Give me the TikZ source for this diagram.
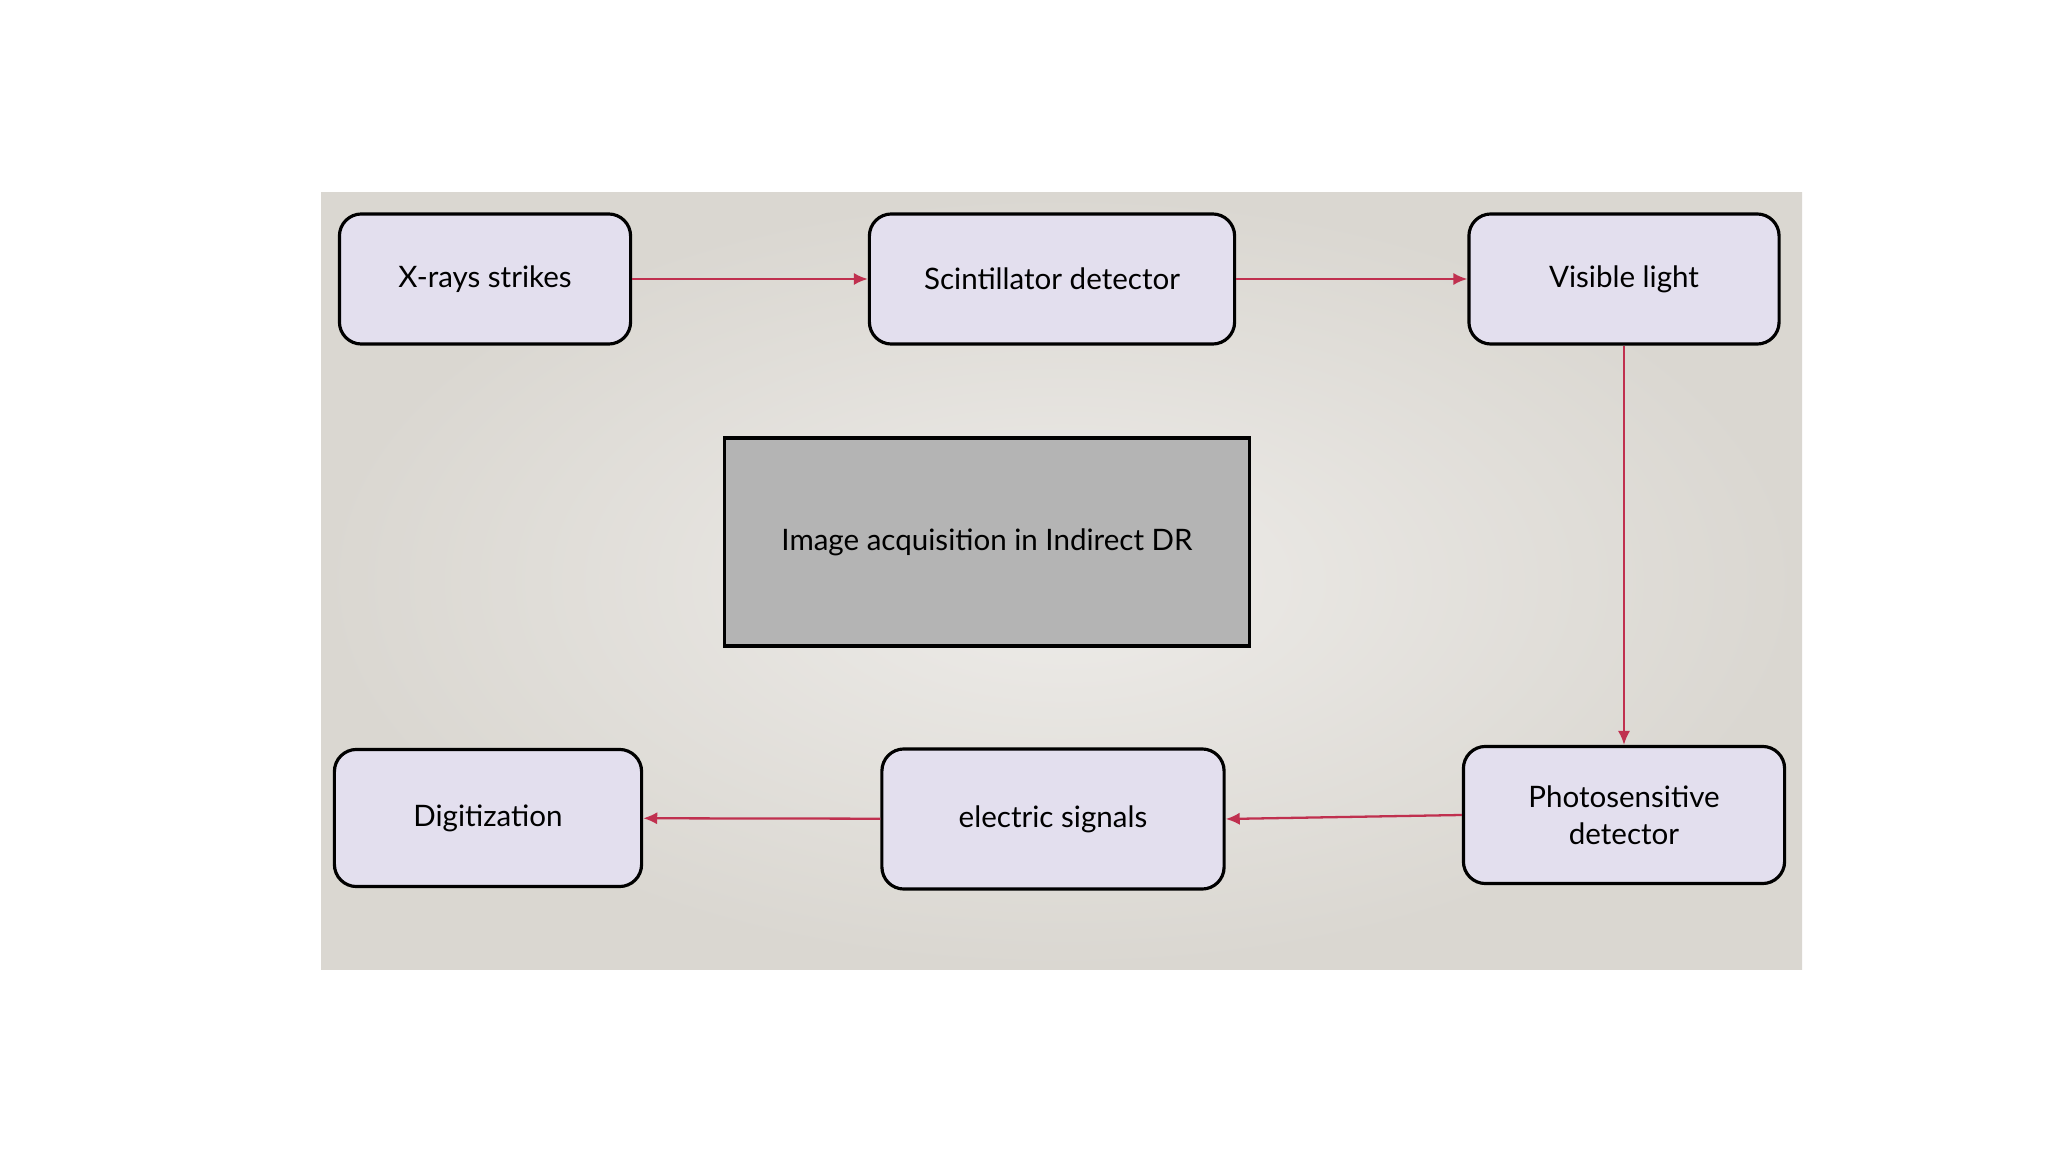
\documentclass[tikz,border=0pt]{standalone}
\usepackage{fontspec}
\setmainfont{Lato}
\usetikzlibrary{arrows.meta,positioning}
\definecolor{boxfill}{HTML}{E3DFEE}
\definecolor{flow}{HTML}{C0304F}
\definecolor{panelin}{HTML}{EEECE9}
\definecolor{panelout}{HTML}{DAD7D1}
\definecolor{titlefill}{HTML}{B4B4B4}
\begin{document}
\begin{tikzpicture}[x=0.01cm, y=-0.01cm,
    stage/.style={draw, line width=0.9pt, rounded corners=0.22cm, fill=boxfill, minimum height=1.3cm, align=center, font=\fontsize{8.4}{10.4}\selectfont},
    title/.style={draw, line width=0.9pt, fill=titlefill, minimum width=5.24cm, minimum height=2.08cm, font=\fontsize{8.4}{10.4}\selectfont},
    flowarrow/.style={draw=flow, line width=0.65pt, -{Latex[length=4pt,width=3.5pt]}}]
    \useasboundingbox[fill=white] (0,0) rectangle (2048,1152);
    \shade[inner color=panelin, outer color=panelout] (321,193) rectangle (1802,969);
    \node[stage, minimum width=2.91cm] (xrays) at (485,279) {X-rays strikes};
    \node[stage, minimum width=3.65cm] (scint) at (1052,279) {Scintillator detector};
    \node[stage, minimum width=3.10cm] (visible) at (1624,279) {Visible light};
    \node[title] (acq) at (987,542) {Image acquisition in Indirect DR};
    \node[stage, minimum width=3.21cm, minimum height=1.37cm] (photo) at (1624,815) {Photosensitive\\detector};
    \node[stage, minimum width=3.42cm, minimum height=1.40cm] (signals) at (1053,819) {electric signals};
    \node[stage, minimum width=3.07cm, minimum height=1.37cm] (digit) at (488,818) {Digitization};
    \draw[flowarrow] (xrays) -- (scint);
    \draw[flowarrow] (scint) -- (visible);
    \draw[flowarrow] (visible) -- (photo);
    \draw[flowarrow] (photo.west) -- (signals.east);
    \draw[flowarrow] (signals) -- (digit);
  \end{tikzpicture}
\end{document}
